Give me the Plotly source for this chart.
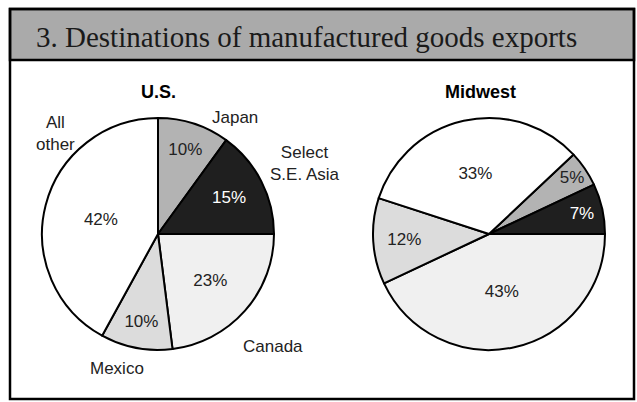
import plotly.graph_objects as go

W, H = 637, 402

title_text = "3. Destinations of manufactured goods exports"
regions = ["U.S.", "Midwest"]
categories = ["Japan", "Select S.E. Asia", "Canada", "Mexico", "All other"]
us_values = [10, 15, 23, 10, 42]
midwest_values = [5, 7, 43, 12, 33]
slice_colors = ["#b3b3b3", "#1f1f1f", "#f0f0f0", "#dcdcdc", "#ffffff"]
text_colors = ["#222222", "#ffffff", "#222222", "#222222", "#222222"]
us_outside_labels = ["Japan", "Select<br>S.E. Asia", "Canada", "Mexico", "All<br>other"]

SANS = "Arial, Liberation Sans, sans-serif"


def px(x):
    return x / W


def py(y):
    return 1 - y / H


fig = go.Figure()

r = 116
centers = [(158, 234), (489, 234)]
rotations = [0, 46.8]
for (cx, cy), vals, rot in zip(centers, [us_values, midwest_values], rotations):
    fig.add_trace(go.Pie(
        labels=categories,
        values=vals,
        sort=False,
        direction="clockwise",
        rotation=rot,
        marker=dict(colors=slice_colors, line=dict(color="#000000", width=2)),
        texttemplate="%{value}%",
        textposition="inside",
        insidetextorientation="horizontal",
        insidetextfont=dict(family=SANS, size=17, color=text_colors),
        domain=dict(x=[px(cx - r), px(cx + r)], y=[py(cy + r), py(cy - r)]),
        showlegend=False,
        hoverinfo="label+percent",
    ))

shapes = [
    dict(type="rect", xref="paper", yref="paper", x0=px(10), x1=px(634), y0=py(399), y1=py(9),
         line=dict(color="#000000", width=2.5), fillcolor="rgba(0,0,0,0)", layer="above"),
    dict(type="rect", xref="paper", yref="paper", x0=px(10), x1=px(634), y0=py(60), y1=py(9),
         line=dict(color="#000000", width=2.5), fillcolor="#aaaaaa", layer="below"),
]

annotations = [
    dict(text=title_text, x=px(34), y=py(37), xref="paper", yref="paper", xanchor="left", yanchor="middle",
         showarrow=False, font=dict(family="Liberation Serif, Times New Roman, serif", size=29, color="#1a1a1a")),
    dict(text="<b>" + regions[0] + "</b>", x=px(158), y=py(92), xref="paper", yref="paper",
         xanchor="center", yanchor="middle",
         showarrow=False, font=dict(family=SANS, size=18, color="#000000")),
    dict(text="<b>" + regions[1] + "</b>", x=px(481), y=py(92), xref="paper", yref="paper",
         xanchor="center", yanchor="middle",
         showarrow=False, font=dict(family=SANS, size=18, color="#000000")),
]

label_pos = [(235, 117), (305, 164), (273, 346), (117, 368), (55, 133)]
for lab, (lx, ly) in zip(us_outside_labels, label_pos):
    annotations.append(dict(text=lab, x=px(lx), y=py(ly), xref="paper", yref="paper", showarrow=False,
                            xanchor="center", yanchor="middle",
                            font=dict(family=SANS, size=17, color="#222222")))

fig.update_layout(
    width=W, height=H,
    margin=dict(l=0, r=0, t=0, b=0),
    paper_bgcolor="#ffffff",
    plot_bgcolor="#ffffff",
    shapes=shapes,
    annotations=annotations,
)

fig.write_html("out.html", config={"displayModeBar": False},
               post_script="document.body.style.margin='0';document.body.style.overflow='hidden';")
